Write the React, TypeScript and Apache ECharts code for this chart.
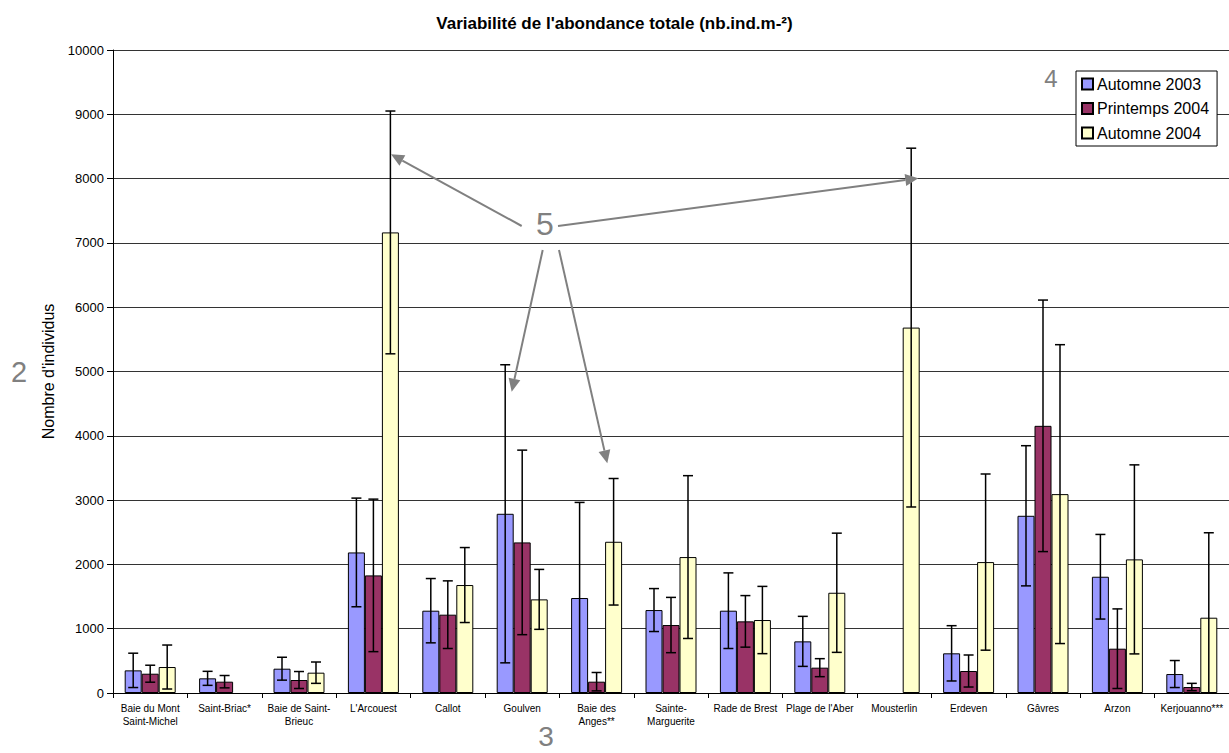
import React, { useEffect, useRef } from "react";
import * as echarts from "echarts";

const categories = [
  "Baie du Mont\nSaint-Michel",
  "Saint-Briac*",
  "Baie de Saint-\nBrieuc",
  "L'Arcouest",
  "Callot",
  "Goulven",
  "Baie des\nAnges**",
  "Sainte-\nMarguerite",
  "Rade de Brest",
  "Plage de l'Aber",
  "Mousterlin",
  "Erdeven",
  "Gâvres",
  "Arzon",
  "Kerjouanno***",
];

const seriesNames = ["Automne 2003", "Printemps 2004", "Automne 2004"];

const automne2003 = [352, 228, 378, 2186, 1280, 2787, 1477, 1290, 1280, 803, null, 617, 2756, 1808, 295];
const automne2003Sd = [267, 109, 178, 845, 500, 2318, 1487, 334, 588, 389, null, 430, 1090, 658, 210];
const printemps2004 = [300, 176, 202, 1829, 1218, 2342, 176, 1057, 1114, 394, null, 342, 4155, 689, 93];
const printemps2004Sd = [132, 96, 132, 1186, 526, 1435, 143, 430, 401, 140, null, 249, 1956, 619, 57];
const automne2004 = [404, null, 316, 7163, 1679, 1456, 2352, 2114, 1135, 1559, 5683, 2036, 3093, 2078, 1171];
const automne2004Sd = [342, null, 166, 1888, 583, 466, 984, 1266, 523, 927, 2790, 1370, 2324, 1470, 1321];

const yTicks = { min: 0, max: 10000, interval: 1000 };

const colors = ["#9999FF", "#993366", "#FFFFCC"];

const FONT = "'Liberation Sans', Arial, sans-serif";
const BAR_W = 17;
const GREY = "#808080";

function arrow(x1: number, y1: number, x2: number, y2: number) {
  const dx = x2 - x1;
  const dy = y2 - y1;
  const len = Math.sqrt(dx * dx + dy * dy);
  const ux = dx / len;
  const uy = dy / len;
  const headL = 13;
  const headW = 6;
  const bx = x2 - ux * headL;
  const by = y2 - uy * headL;
  return [
    {
      type: "line",
      shape: { x1, y1, x2: bx, y2: by },
      style: { stroke: GREY, lineWidth: 2 },
      z: 100,
    },
    {
      type: "polygon",
      shape: {
        points: [
          [x2, y2],
          [bx - uy * headW, by + ux * headW],
          [bx + uy * headW, by - ux * headW],
        ],
      },
      style: { fill: GREY },
      z: 100,
    },
  ];
}

function numLabel(text: string, x: number, y: number, size: number) {
  return {
    type: "text",
    x,
    y,
    z: 100,
    style: {
      text,
      fill: GREY,
      font: `${size}px ${FONT}`,
      textAlign: "center",
      textVerticalAlign: "middle",
    },
  };
}

export default function App() {
  const ref = useRef<HTMLDivElement>(null);

  useEffect(() => {
    if (!ref.current) return;
    const chart = echarts.init(ref.current, undefined, { renderer: "svg" });

    const means = [automne2003, printemps2004, automne2004];
    const sds = [automne2003Sd, printemps2004Sd, automne2004Sd];

    const barSeries = seriesNames.map((name, i) => ({
      name,
      type: "bar",
      data: means[i],
      barWidth: BAR_W,
      barGap: "0%",
      itemStyle: { color: colors[i], borderColor: "#000", borderWidth: 1 },
      z: 2,
    }));

    const errSeries = seriesNames.map((name, i) => ({
      name: "err-" + name,
      type: "custom",
      z: 5,
      silent: true,
      data: means[i]
        .map((m, k) => (m == null ? null : [k, m, sds[i][k]]))
        .filter((d) => d !== null),
      encode: { x: 0, y: 1 },
      renderItem: (params: any, api: any) => {
        const ci = api.value(0);
        const m = api.value(1);
        const s = api.value(2);
        const top = api.coord([ci, m + s]);
        const bot = api.coord([ci, Math.max(0, m - s)]);
        const x = top[0] + (i - 1) * BAR_W;
        const st = { stroke: "#000", lineWidth: 1.5 };
        const children: any[] = [
          { type: "line", shape: { x1: x, y1: top[1], x2: x, y2: bot[1] }, style: st },
          { type: "line", shape: { x1: x - 5, y1: top[1], x2: x + 5, y2: top[1] }, style: st },
        ];
        if (m - s > 0) {
          children.push({
            type: "line",
            shape: { x1: x - 5, y1: bot[1], x2: x + 5, y2: bot[1] },
            style: st,
          });
        }
        return { type: "group", children };
      },
    }));

    chart.setOption({
      animation: false,
      backgroundColor: "#fff",
      title: {
        text: "Variabilité de l'abondance totale (nb.ind.m-²)",
        left: "center",
        top: 10,
        textStyle: { fontFamily: FONT, fontSize: 17, fontWeight: "bold", color: "#000" },
      },
      legend: {
        data: seriesNames,
        orient: "vertical",
        left: 1076,
        top: 71,
        icon: "rect",
        itemWidth: 11,
        itemHeight: 11,
        itemGap: 8.5,
        padding: [5, 8, 5, 5],
        borderColor: "#000",
        borderWidth: 1,
        backgroundColor: "#fff",
        textStyle: { fontFamily: FONT, fontSize: 16, color: "#000", lineHeight: 16, padding: [0, 0, 0, -1] },
      },
      grid: { left: 113, top: 50, right: -3, bottom: 60, containLabel: false },
      xAxis: {
        type: "category",
        data: categories,
        axisLine: { lineStyle: { color: "#000", width: 1 } },
        axisTick: { show: true, length: 5, lineStyle: { color: "#000" } },
        axisLabel: {
          interval: 0,
          fontFamily: FONT,
          fontSize: 10,
          lineHeight: 13,
          color: "#000",
          margin: 9,
        },
      },
      yAxis: {
        type: "value",
        min: yTicks.min,
        max: yTicks.max,
        interval: yTicks.interval,
        name: "Nombre d'individus",
        nameLocation: "middle",
        nameRotate: 90,
        nameGap: 52,
        nameTextStyle: { fontFamily: FONT, fontSize: 16, color: "#000" },
        axisLine: { show: true, lineStyle: { color: "#000", width: 1 } },
        axisTick: { show: true, length: 6, lineStyle: { color: "#000" } },
        axisLabel: {
          fontFamily: FONT,
          fontSize: 13,
          color: "#000",
          margin: 9,
          formatter: (v: number) => String(v),
        },
        splitLine: { show: true, lineStyle: { color: "#333", width: 1 } },
      },
      series: [...barSeries, ...errSeries],
      graphic: [
        numLabel("2", 19, 372, 29),
        numLabel("3", 546, 736, 28),
        numLabel("4", 1051, 78, 24),
        numLabel("5", 545, 224, 32),
        ...arrow(521.7, 226, 391, 154.3),
        ...arrow(558, 226, 918.3, 178.3),
        ...arrow(542.7, 250, 511.7, 391.7),
        ...arrow(559, 250, 607.3, 463.3),
      ],
    });

    return () => chart.dispose();
  }, []);

  return (
    <div
      ref={ref}
      style={{ position: "absolute", left: 0, top: 0, width: 1229, height: 753, background: "#fff" }}
    />
  );
}
